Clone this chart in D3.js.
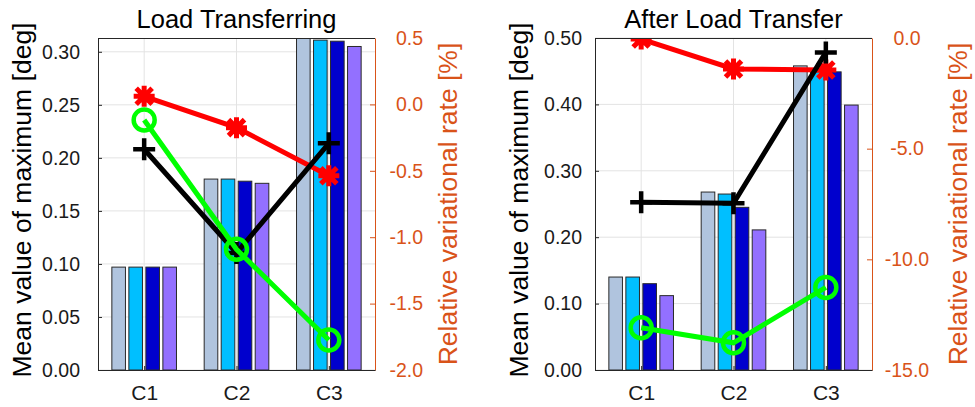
<!DOCTYPE html>
<html>
<head>
<meta charset="utf-8">
<script src="https://cdn.jsdelivr.net/npm/d3@7"></script>
<style>
  body { margin: 0; background: #fff; }
  text { font-family: "Liberation Sans", Arial, sans-serif; }
</style>
</head>
<body>
<div id="chart"></div>
<script>
// categories + values
var categories = ["C1", "C2", "C3"];

// bars, one array per series (C1, C2, C3)
var loadBars = [
  [0.097, 0.180, 0.316],
  [0.097, 0.180, 0.311],
  [0.097, 0.178, 0.310],
  [0.097, 0.176, 0.305]
];
var afterBars = [
  [0.140, 0.268, 0.458],
  [0.140, 0.265, 0.452],
  [0.130, 0.245, 0.449],
  [0.112, 0.211, 0.399]
];

// relative variational rate [%] (right axis)
var loadRed = [0.061, -0.175, -0.537];
var loadBlack = [-0.338, -1.119, -0.293];
var loadGreen = [-0.117, -1.091, -1.774];

var afterRed = [-0.05, -1.40, -1.45];
var afterBlack = [-7.42, -7.47, -0.65];
var afterGreen = [-13.09, -13.77, -11.27];

var loadLeftTicks = [0, 0.05, 0.10, 0.15, 0.20, 0.25, 0.30];
var loadRightTicks = [-2.0, -1.5, -1.0, -0.5, 0.0, 0.5];
var afterLeftTicks = [0, 0.1, 0.2, 0.3, 0.4, 0.5];
var afterRightTicks = [-15, -10, -5, 0];

var barColors = ["#b0c4de", "#00bfff", "#0000cd", "#9370ff"];
var orange = "#d95319";

var svgWidth = 975;
var svgHeight = 407;
var plotTop = 38, plotBottom = 370;

var svg = d3.select("#chart")
  .append("svg")
  .attr("width", svgWidth)
  .attr("height", svgHeight);

function drawPanel(opt) {
  var g = svg.append("g");

  var x = d3.scaleLinear().domain([0.5, 3.5]).range([opt.x0, opt.x1]);
  var catW = (opt.x1 - opt.x0) / 3;
  var groupW = catW * 0.7;
  var band = d3.scaleBand()
    .domain(d3.range(opt.bars.length))
    .range([-groupW / 2, groupW / 2])
    .paddingInner(0.2);

  var yL = d3.scaleLinear().domain(opt.leftDomain).range([plotBottom, plotTop]);
  var yR = d3.scaleLinear().domain(opt.rightDomain).range([plotBottom, plotTop]);

  var clipId = "clip" + opt.id;
  svg.append("clipPath").attr("id", clipId)
    .append("rect")
    .attr("x", opt.x0).attr("y", plotTop)
    .attr("width", opt.x1 - opt.x0).attr("height", plotBottom - plotTop);

  // grid
  g.append("g").selectAll("line")
    .data(opt.leftTicks)
    .enter().append("line")
    .attr("x1", opt.x0).attr("x2", opt.x1)
    .attr("y1", d => yL(d)).attr("y2", d => yL(d))
    .attr("stroke", "#e3e3e3").attr("stroke-width", 1);

  g.append("g").selectAll("line")
    .data(categories)
    .enter().append("line")
    .attr("x1", (d, i) => x(i + 1)).attr("x2", (d, i) => x(i + 1))
    .attr("y1", plotTop).attr("y2", plotBottom)
    .attr("stroke", "#e3e3e3").attr("stroke-width", 1);

  var plot = g.append("g").attr("clip-path", "url(#" + clipId + ")");

  // bars
  opt.bars.forEach(function(series, s) {
    plot.append("g").selectAll("rect")
      .data(series)
      .enter().append("rect")
      .attr("x", (d, i) => x(i + 1) + band(s))
      .attr("y", d => yL(d))
      .attr("width", band.bandwidth())
      .attr("height", d => yL(0) - yL(d))
      .attr("fill", barColors[s])
      .attr("stroke", "#2a2a2a")
      .attr("stroke-width", 1);
  });

  var line = d3.line()
    .x((d, i) => x(i + 1))
    .y(d => yR(d));

  function drawLine(vals, color, marker) {
    var lg = plot.append("g");
    lg.append("path")
      .datum(vals)
      .attr("d", line)
      .attr("fill", "none")
      .attr("stroke", color)
      .attr("stroke-width", 5);

    var m = lg.selectAll("g")
      .data(vals)
      .enter().append("g")
      .attr("transform", (d, i) => `translate(${x(i + 1)},${yR(d)})`);

    if (marker == "star") {
      var s = 10.5, k = 8;
      m.append("path")
        .attr("d", `M${-s},0L${s},0M0,${-s}L0,${s}M${-k},${-k}L${k},${k}M${-k},${k}L${k},${-k}`)
        .attr("stroke", color).attr("stroke-width", 5).attr("fill", "none");
    } else if (marker == "plus") {
      var p = 11;
      m.append("path")
        .attr("d", `M${-p},0L${p},0M0,${-p}L0,${p}`)
        .attr("stroke", color).attr("stroke-width", 4.5).attr("fill", "none");
    } else {
      m.append("circle")
        .attr("r", 10.5)
        .attr("stroke", color).attr("stroke-width", 4.5).attr("fill", "none");
    }
  }

  drawLine(opt.red, "#ff0000", "star");
  drawLine(opt.black, "#000000", "plus");
  drawLine(opt.green, "#00ff00", "circle");

  // axes
  var leftAxis = d3.axisLeft(yL)
    .tickValues(opt.leftTicks)
    .tickFormat(d3.format(".2f"))
    .tickSizeInner(-4)
    .tickSizeOuter(0)
    .tickPadding(opt.leftPad);

  var la = g.append("g")
    .attr("transform", `translate(${opt.x0},0)`)
    .call(leftAxis);
  la.select(".domain").attr("stroke", "#262626");
  la.selectAll(".tick line").attr("stroke", "#262626");
  la.selectAll("text").style("font-size", "19.5px").attr("fill", "#1a1a1a");

  var rightAxis = d3.axisRight(yR)
    .tickValues(opt.rightTicks)
    .tickFormat(d => d.toFixed(1))
    .tickSizeInner(-5)
    .tickSizeOuter(0);

  var ra = g.append("g")
    .attr("transform", `translate(${opt.x1},0)`)
    .call(rightAxis);
  ra.select(".domain").attr("stroke", orange);
  ra.selectAll(".tick line").attr("stroke", orange);
  ra.selectAll("text")
    .style("font-size", "19.5px")
    .attr("fill", orange)
    .attr("text-anchor", opt.rightAnchor)
    .attr("x", opt.rightLabelX);

  var bottomAxis = d3.axisBottom(x)
    .tickValues([1, 2, 3])
    .tickFormat((d, i) => categories[i])
    .tickSizeInner(-4)
    .tickSizeOuter(0)
    .tickPadding(15);

  var ba = g.append("g")
    .attr("transform", `translate(0,${plotBottom})`)
    .call(bottomAxis);
  ba.select(".domain").attr("stroke", "#262626");
  ba.selectAll(".tick line").attr("stroke", "#262626");
  ba.selectAll("text").style("font-size", "21px").attr("fill", "#1a1a1a");

  // top border
  g.append("line")
    .attr("x1", opt.x0).attr("x2", opt.x1)
    .attr("y1", plotTop + 0.5).attr("y2", plotTop + 0.5)
    .attr("stroke", "#262626");

  // title + axis titles
  g.append("text")
    .attr("x", (opt.x0 + opt.x1) / 2)
    .attr("y", 28)
    .attr("text-anchor", "middle")
    .style("font-size", "25.5px")
    .attr("fill", "#000")
    .text(opt.title);

  g.append("text")
    .attr("transform", `translate(${opt.leftTitleX},${(plotTop + plotBottom) / 2 - 4}) rotate(-90)`)
    .attr("text-anchor", "middle")
    .style("font-size", "26.5px")
    .attr("fill", "#000")
    .text("Mean value of maximum [deg]");

  g.append("text")
    .attr("transform", `translate(${opt.rightTitleX},${(plotTop + plotBottom) / 2}) rotate(-90)`)
    .attr("text-anchor", "middle")
    .style("font-size", "26.5px")
    .attr("fill", orange)
    .text("Relative variational rate [%]");
}

drawPanel({
  id: 1,
  title: "Load Transferring",
  x0: 98, x1: 375,
  bars: loadBars,
  red: loadRed, black: loadBlack, green: loadGreen,
  leftDomain: [0, 0.313], rightDomain: [-2.0, 0.5],
  leftTicks: loadLeftTicks, rightTicks: loadRightTicks,
  leftPad: 18,
  rightAnchor: "end", rightLabelX: 48,
  leftTitleX: 31, rightTitleX: 457
});

drawPanel({
  id: 2,
  title: "After Load Transfer",
  x0: 595, x1: 872,
  bars: afterBars,
  red: afterRed, black: afterBlack, green: afterGreen,
  leftDomain: [0, 0.5], rightDomain: [-15, 0],
  leftTicks: afterLeftTicks, rightTicks: afterRightTicks,
  leftPad: 13,
  rightAnchor: "middle", rightLabelX: 35,
  leftTitleX: 528, rightTitleX: 967
});
</script>
</body>
</html>
